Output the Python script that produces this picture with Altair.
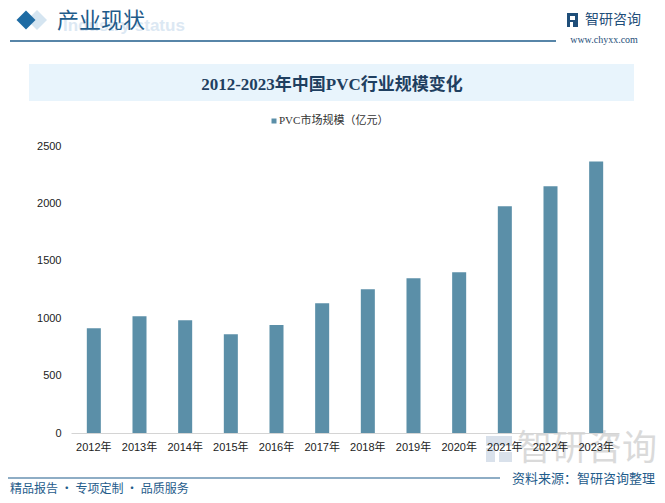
import altair as alt
import pandas as pd

years = ["2012年", "2013年", "2014年", "2015年", "2016年", "2017年",
         "2018年", "2019年", "2020年", "2021年", "2022年", "2023年"]
values = [913, 1018, 983, 861, 940, 1131, 1253, 1348, 1400, 1975, 2149, 2366]
y_ticks = [0, 500, 1000, 1500, 2000, 2500]

BAR = "#5B8FA8"
NAVY = "#1F5C8B"
OX, OY = 71, 146  # plot origin on the page
W, H = 548, 287

df = pd.DataFrame({"year": years, "value": values})
one = alt.Data(values=[{"k": 1}])


def px(x):
    return x - OX


def py(y):
    return y - OY


def txt(s, x, y, size, color, font="Noto Sans CJK SC", weight="normal",
        align="left", baseline="middle", opacity=1.0):
    return alt.Chart(one).mark_text(
        text=s, fontSize=size, color=color, font=font, fontWeight=weight,
        align=align, baseline=baseline, opacity=opacity
    ).encode(x=alt.value(px(x)), y=alt.value(py(y)))


def rule(x1, x2, y, color, width=1.5):
    return alt.Chart(one).mark_rule(color=color, strokeWidth=width).encode(
        x=alt.value(px(x1)), x2=alt.value(px(x2)), y=alt.value(py(y))
    )


def box(x1, x2, y1, y2, color, opacity=1.0):
    return alt.Chart(one).mark_rect(color=color, opacity=opacity).encode(
        x=alt.value(px(x1)), x2=alt.value(px(x2)),
        y=alt.value(py(y1)), y2=alt.value(py(y2))
    )


def diamond(x, y, w, color):
    return alt.Chart(one).mark_point(
        shape="diamond", filled=True, size=w * w, color=color, opacity=1
    ).encode(x=alt.value(px(x)), y=alt.value(py(y)))


bars = alt.Chart(df).mark_bar(color=BAR).encode(
    x=alt.X("year:N", sort=years, title=None,
            scale=alt.Scale(paddingInner=0.693, paddingOuter=0.3465),
            axis=alt.Axis(labelAngle=0, ticks=False, domainColor="#D4D4D4",
                          labelFont="Liberation Sans, Noto Sans CJK SC",
                          labelFontSize=11, labelColor="#222", labelPadding=8,
                          zindex=1)),
    y=alt.Y("value:Q", title=None,
            scale=alt.Scale(domain=[0, 2500], nice=False),
            axis=alt.Axis(values=y_ticks, format="d", grid=False, domain=False,
                          ticks=False, labelFont="Liberation Sans",
                          labelFontSize=11, labelColor="#222", labelPadding=10,
                          zindex=1)),
)

layers = [
    # header
    txt("Industry status", 63, 26, 17, "#DCE8F3", font="Liberation Sans", weight="bold"),
    diamond(37, 20, 20, "#D5E5F1"),
    diamond(26, 20, 19, "#1E6BA3"),
    txt("产业现状", 57, 21, 22, NAVY),
    rule(10, 556, 41, NAVY, 1.5),
    box(567, 578, 13, 27, "#1F4E79"),
    box(570, 575, 16, 20, "#FFFFFF"),
    box(570, 573, 22, 27, "#FFFFFF"),
    txt("智研咨询", 585, 20, 14, "#1F4E79"),
    txt("www.chyxx.com", 604, 40, 10, "#1F4E79", font="Liberation Serif", align="center"),
    # title band
    box(29, 634, 64, 101, "#E8F4FC"),
    txt("2012-2023年中国PVC行业规模变化", 332, 85, 17, "#1F3F60",
        font="Liberation Serif, Noto Sans CJK SC", weight="bold", align="center"),
    # legend
    alt.Chart(one).mark_square(color=BAR, size=25, opacity=1).encode(
        x=alt.value(px(274)), y=alt.value(py(121))),
    txt("PVC市场规模（亿元）", 279, 121, 11, "#333333",
        font="Liberation Serif, Noto Sans CJK SC"),
    # watermark behind bottom-right
    box(486, 512, 436, 446, "#C9D4E2", 0.7),
    box(486, 495, 448, 462, "#C9D4E2", 0.7),
    box(499, 512, 452, 462, "#C9D4E2", 0.7),
    txt("智研咨询", 517, 449, 35, "#D2D2D2", opacity=0.8),
    bars,
    # footer
    rule(8, 500, 478, NAVY, 1.2),
    txt("资料来源：智研咨询整理", 655, 479, 13, NAVY, align="right"),
    txt("精品报告 · 专项定制 · 品质服务", 10, 488.5, 12, NAVY),
]

chart = alt.layer(*layers).properties(
    width=W, height=H,
    autosize=alt.AutoSizeParams(type="none"),
    padding={"left": OX - 8, "top": OY - 8, "right": 665 - 8 - OX - W,
             "bottom": 503 - 8 - OY - H},
    background="white",
).configure_view(stroke=None)

chart.save("out.html", embed_options={"renderer": "svg", "actions": False})
